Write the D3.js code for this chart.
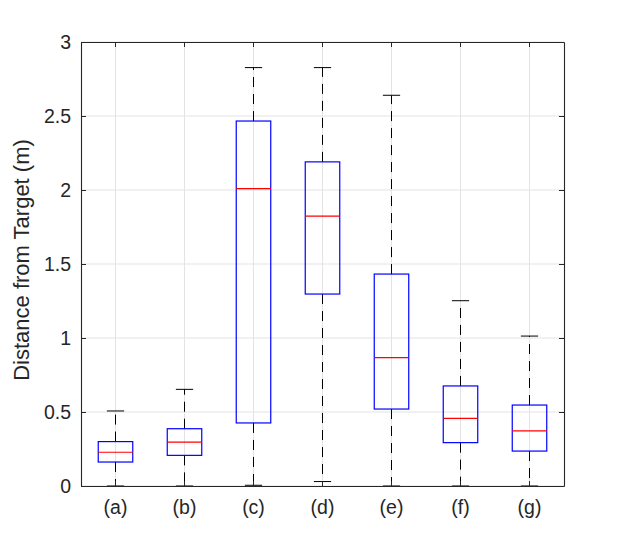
<!DOCTYPE html>
<html>
<head>
<meta charset="utf-8">
<script src="https://cdn.jsdelivr.net/npm/d3@7"></script>
<style>
  body { margin: 0; background: #fff; }
  svg text { font-family: "Liberation Sans", Arial, sans-serif; fill: #262626; }
</style>
</head>
<body>
<div id="chart"></div>
<script>
// categories and box statistics
var categories = ['(a)', '(b)', '(c)', '(d)', '(e)', '(f)', '(g)'];
var lower_whisker = [0, 0, 0.005, 0.03, 0, 0, 0];
var q1            = [0.162, 0.207, 0.426, 1.297, 0.52, 0.293, 0.236];
var medians       = [0.228, 0.297, 2.009, 1.824, 0.867, 0.457, 0.372];
var q3            = [0.30, 0.387, 2.466, 2.19, 1.432, 0.676, 0.547];
var upper_whisker = [0.507, 0.653, 2.827, 2.827, 2.64, 1.252, 1.013];
var y_ticks       = [0, 0.5, 1, 1.5, 2, 2.5, 3];
var y_tick_labels = ['0', '0.5', '1', '1.5', '2', '2.5', '3'];

var data = categories.map(function(c, i){
    return {
        cat: c,
        lo: lower_whisker[i],
        q1: q1[i],
        med: medians[i],
        q3: q3[i],
        hi: upper_whisker[i]
    };
});

var chart_width  = 623;
var chart_height = 546;
var plot_left = 81, plot_right = 564, plot_top = 42, plot_bottom = 486;
var axis_color = '#262626';

var svg = d3.select('#chart')
    .append('svg')
    .attr('width', chart_width)
    .attr('height', chart_height);

var x_scale = d3.scaleBand()
    .domain(categories)
    .range([plot_left, plot_right]);

var y_scale = d3.scaleLinear()
    .domain([0, 3])
    .range([plot_bottom, plot_top]);

var bw = x_scale.bandwidth();
var cx = function(d){ return x_scale(d.cat) + bw / 2; };

// grid
svg.append('g')
    .selectAll('line')
    .data(y_ticks)
    .enter()
    .append('line')
    .attr('x1', plot_left).attr('x2', plot_right)
    .attr('y1', function(d){ return y_scale(d); })
    .attr('y2', function(d){ return y_scale(d); })
    .attr('stroke', '#e3e3e3')
    .attr('stroke-width', 1);

svg.append('g')
    .selectAll('line')
    .data(data)
    .enter()
    .append('line')
    .attr('x1', cx).attr('x2', cx)
    .attr('y1', plot_top).attr('y2', plot_bottom)
    .attr('stroke', '#e3e3e3')
    .attr('stroke-width', 1);

// boxes
var boxes = svg.append('g')
    .selectAll('g')
    .data(data)
    .enter()
    .append('g');

// whiskers (dashed)
boxes.append('line')
    .attr('x1', cx).attr('x2', cx)
    .attr('y1', function(d){ return y_scale(d.q3); })
    .attr('y2', function(d){ return y_scale(d.hi); })
    .attr('stroke', '#000')
    .attr('stroke-width', 1)
    .attr('stroke-dasharray', '10,7');

boxes.append('line')
    .attr('x1', cx).attr('x2', cx)
    .attr('y1', function(d){ return y_scale(d.q1); })
    .attr('y2', function(d){ return y_scale(d.lo); })
    .attr('stroke', '#000')
    .attr('stroke-width', 1)
    .attr('stroke-dasharray', '10,7');

// caps
['hi', 'lo'].forEach(function(k){
    boxes.append('line')
        .attr('x1', function(d){ return cx(d) - bw * 0.125; })
        .attr('x2', function(d){ return cx(d) + bw * 0.125; })
        .attr('y1', function(d){ return y_scale(d[k]); })
        .attr('y2', function(d){ return y_scale(d[k]); })
        .attr('stroke', '#000')
        .attr('stroke-width', 1);
});

boxes.append('rect')
    .attr('x', function(d){ return cx(d) - bw * 0.25; })
    .attr('y', function(d){ return y_scale(d.q3); })
    .attr('width', bw * 0.5)
    .attr('height', function(d){ return y_scale(d.q1) - y_scale(d.q3); })
    .attr('fill', 'none')
    .attr('stroke', '#0000ff')
    .attr('stroke-width', 1.2);

boxes.append('line')
    .attr('x1', function(d){ return cx(d) - bw * 0.25; })
    .attr('x2', function(d){ return cx(d) + bw * 0.25; })
    .attr('y1', function(d){ return y_scale(d.med); })
    .attr('y2', function(d){ return y_scale(d.med); })
    .attr('stroke', '#ff0000')
    .attr('stroke-width', 1.2);

// axes
var y_axis = d3.axisLeft(y_scale)
    .tickValues(y_ticks)
    .tickFormat(function(d, i){ return y_tick_labels[i]; })
    .tickSizeInner(-5)
    .tickSizeOuter(0)
    .tickPadding(10);

svg.append('g')
    .attr('transform', 'translate(' + plot_left + ',0)')
    .call(y_axis);

var x_axis = d3.axisBottom(x_scale)
    .tickSizeInner(-5)
    .tickSizeOuter(0)
    .tickPadding(14);

svg.append('g')
    .attr('transform', 'translate(0,' + plot_bottom + ')')
    .call(x_axis);

// mirrored ticks on top / right
svg.append('g')
    .attr('transform', 'translate(0,' + plot_top + ')')
    .call(d3.axisTop(x_scale).tickSizeInner(-5).tickSizeOuter(0).tickFormat(''));

svg.append('g')
    .attr('transform', 'translate(' + plot_right + ',0)')
    .call(d3.axisRight(y_scale).tickValues(y_ticks).tickSizeInner(-5).tickSizeOuter(0).tickFormat(''));

svg.selectAll('.domain').attr('stroke', axis_color).attr('stroke-width', 1.1);
svg.selectAll('.tick line').attr('stroke', axis_color);
svg.selectAll('.tick text')
    .attr('font-size', 19.5)
    .attr('fill', axis_color)
    .style('font-family', '"Liberation Sans", Arial, sans-serif');

// axis label
svg.append('text')
    .attr('transform', 'translate(29,' + ((plot_top + plot_bottom) / 2 - 4) + ') rotate(-90)')
    .attr('text-anchor', 'middle')
    .attr('font-size', 22)
    .text('Distance from Target (m)');
</script>
</body>
</html>
